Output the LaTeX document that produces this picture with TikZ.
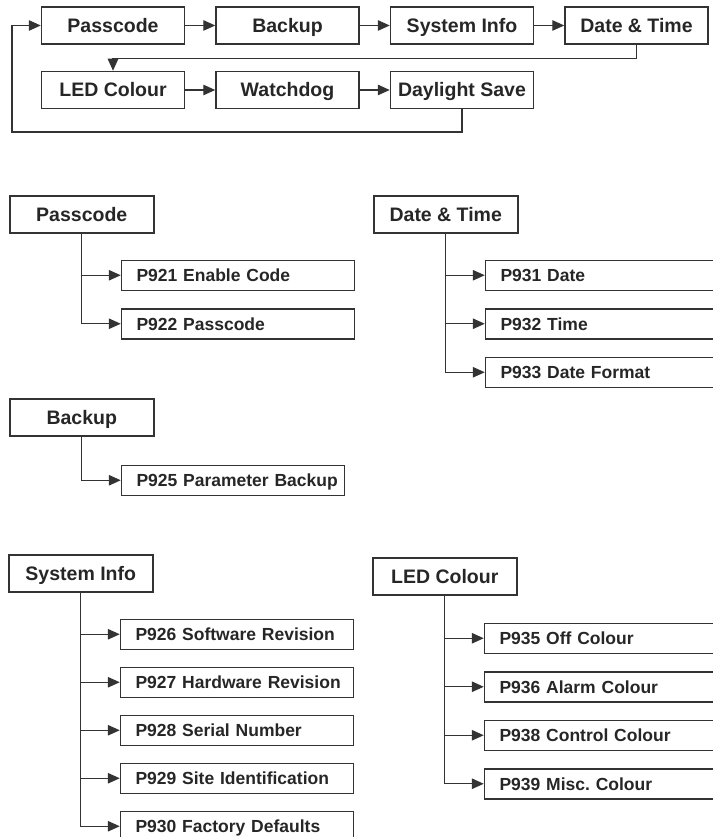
\documentclass[tikz,border=0pt]{standalone}
\usepackage{fontspec}
\setmainfont{Liberation Sans}
\usepackage{tikz}
\usetikzlibrary{positioning,arrows.meta}

\begin{document}
\begin{tikzpicture}[
x=1pt, y=-1pt,
node distance=30pt,
menubox/.style={draw=black!80, line width=1.5pt, minimum width=143pt, minimum height=37pt, inner sep=0pt, text height=16pt, text depth=2pt, align=center, font=\fontsize{19.5}{22}\selectfont\bfseries, text=black!85},
hdrbox/.style={menubox, minimum width=144pt, anchor=north west},
parbox/.style={draw=black!80, line width=1.5pt, minimum height=30pt, inner sep=0pt, text width=233pt, text height=14.5pt, text depth=2pt, align=left, font=\fontsize{17.5}{20}\selectfont\bfseries\frenchspacing, text=black!85, execute at begin node=\hspace*{15pt}},
arrow/.style={-{Triangle[length=12pt, width=10.5pt]}, line width=1.3pt, black!80}
]
\useasboundingbox (0,0) rectangle (712,837);

% menu loop
\node[menubox] (pass) at (113,25.5) {Passcode};
\node[menubox, right=of pass] (back) {Backup};
\node[menubox, right=of back] (sys) {System Info};
\node[menubox, right=of sys] (date) {Date \& Time};
\node[menubox, below=26pt of pass] (led) {LED Colour};
\node[menubox, right=of led] (dog) {Watchdog};
\node[menubox, right=of dog] (dst) {Daylight Save};
\coordinate (loop) at (12,132);

\draw[arrow] (pass) -- (back);
\draw[arrow] (back) -- (sys);
\draw[arrow] (sys) -- (date);
\draw[arrow] (date.south) -- ++(0,14) -| (led.north);
\draw[arrow] (led) -- (dog);
\draw[arrow] (dog) -- (dst);
\draw[arrow] (dst.south) |- (loop) |- (pass.west);

% Passcode
\node[hdrbox] (hpass) at (9,195) {Passcode};
\node[parbox, anchor=north west] (p921) at ([xshift=39pt, yshift=-26pt]hpass.south) {P921 Enable Code};
\node[parbox, below=17pt of p921] (p922) {P922 Passcode};
\foreach \n in {p921,p922}
  \draw[arrow] (hpass.south) |- (\n.west);

% Date & Time
\node[hdrbox] (hdate) at (373,195) {Date \& Time};
\node[parbox, anchor=north west] (p931) at ([xshift=39pt, yshift=-26pt]hdate.south) {P931 Date};
\node[parbox, below=17pt of p931] (p932) {P932 Time};
\node[parbox, below=17pt of p932] (p933) {P933 Date Format};
\foreach \n in {p931,p932,p933}
  \draw[arrow] (hdate.south) |- (\n.west);

% Backup
\node[hdrbox] (hback) at (9,398) {Backup};
\node[parbox, text width=223pt, anchor=north west] (p925) at ([xshift=39pt, yshift=-28pt]hback.south) {P925 Parameter Backup};
\draw[arrow] (hback.south) |- (p925.west);

% System Info
\node[hdrbox] (hsys) at (8,554) {System Info};
\node[parbox, anchor=north west] (p926) at ([xshift=39pt, yshift=-26pt]hsys.south) {P926 Software Revision};
\node[parbox, below=16.5pt of p926] (p927) {P927 Hardware Revision};
\node[parbox, below=16.5pt of p927] (p928) {P928 Serial Number};
\node[parbox, below=16.5pt of p928] (p929) {P929 Site Identification};
\node[parbox, below=16.5pt of p929] (p930) {P930 Factory Defaults};
\foreach \n in {p926,p927,p928,p929,p930}
  \draw[arrow] (hsys.south) |- (\n.west);

% LED Colour
\node[hdrbox] (hled) at (372,557) {LED Colour};
\node[parbox, anchor=north west] (p935) at ([xshift=39pt, yshift=-27pt]hled.south) {P935 Off Colour};
\node[parbox, below=17pt of p935] (p936) {P936 Alarm Colour};
\node[parbox, below=17pt of p936] (p938) {P938 Control Colour};
\node[parbox, below=17pt of p938] (p939) {P939 Misc. Colour};
\foreach \n in {p935,p936,p938,p939}
  \draw[arrow] (hled.south) |- (\n.west);
\end{tikzpicture}
\end{document}
